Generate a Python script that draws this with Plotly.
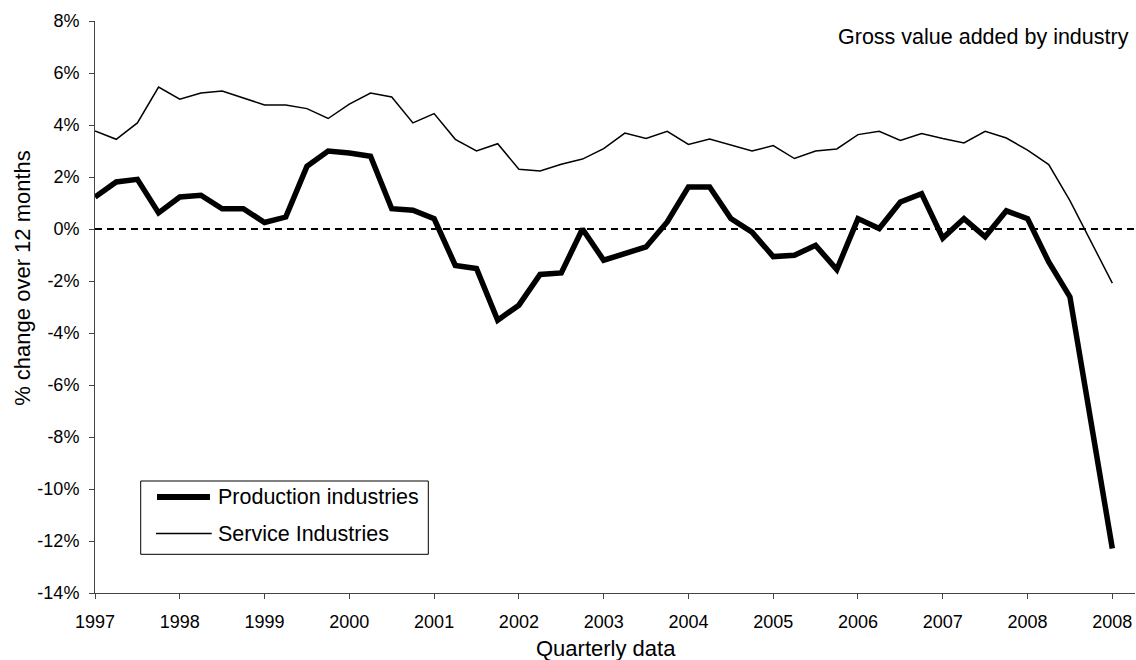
import plotly.graph_objects as go

# ---- data (percent change over 12 months) ----
quarters = [f"{y} Q{q}" for y in range(1997, 2010) for q in (1, 2, 3, 4)][:49]

production = [1.23, 1.81, 1.91, 0.62, 1.23, 1.30, 0.78, 0.78, 0.25, 0.46,
              2.41, 3.00, 2.92, 2.80, 0.78, 0.72, 0.40, -1.40, -1.52, -3.51,
              -2.93, -1.75, -1.69, 0.00, -1.20, -0.95, -0.69, 0.27, 1.62, 1.62,
              0.40, -0.12, -1.06, -1.01, -0.63, -1.56, 0.40, 0.02, 1.04, 1.36,
              -0.35, 0.40, -0.30, 0.70, 0.40, -1.27, -2.61, -7.45, -12.29]

services = [3.77, 3.45, 4.08, 5.46, 4.99, 5.23, 5.31, 5.05, 4.77, 4.77,
            4.63, 4.25, 4.80, 5.23, 5.08, 4.08, 4.44, 3.45, 3.00, 3.28,
            2.30, 2.23, 2.49, 2.69, 3.09, 3.69, 3.48, 3.76, 3.25, 3.46,
            3.22, 3.00, 3.21, 2.71, 3.00, 3.08, 3.63, 3.76, 3.41, 3.67,
            3.48, 3.31, 3.76, 3.50, 3.03, 2.48, 1.09, -0.49, -2.08]

year_labels = ["1997", "1998", "1999", "2000", "2001", "2002", "2003",
               "2004", "2005", "2006", "2007", "2008", "2008"]
y_ticks = [8, 6, 4, 2, 0, -2, -4, -6, -8, -10, -12, -14]

series_names = ["Production industries", "Service Industries"]

FONT = "Liberation Sans, Arial, sans-serif"

fig = go.Figure()
fig.add_trace(go.Scatter(x=quarters, y=services, mode="lines",
                         name=series_names[1],
                         line=dict(color="black", width=1.5),
                         showlegend=False))
fig.add_trace(go.Scatter(x=quarters, y=production, mode="lines",
                         name=series_names[0],
                         line=dict(color="black", width=5.5),
                         showlegend=False))

# zero reference line
fig.add_shape(type="line", xref="paper", yref="y", x0=0, x1=1, y0=0, y1=0,
              line=dict(color="black", width=2, dash="7px,5px"), layer="below")

# custom legend (paper coords)
W, H, L, B = 1040.0, 572.0, 95.0, 592.7
def px(x):
    return (x - L) / W
def py(y):
    return (B - y) / H

fig.add_shape(type="rect", xref="paper", yref="paper",
              x0=px(140.7), x1=px(428.3), y0=py(554), y1=py(480.7),
              line=dict(color="black", width=1), fillcolor="white")
fig.add_shape(type="line", xref="paper", yref="paper",
              x0=px(157), x1=px(210), y0=py(496.7), y1=py(496.7),
              line=dict(color="black", width=6))
fig.add_shape(type="line", xref="paper", yref="paper",
              x0=px(156), x1=px(211.7), y0=py(533.3), y1=py(533.3),
              line=dict(color="black", width=1.5))
fig.add_annotation(xref="paper", yref="paper", x=px(216), y=py(496.7),
                   text=series_names[0], showarrow=False,
                   xanchor="left", yanchor="middle",
                   font=dict(family=FONT, size=21.5, color="black"))
fig.add_annotation(xref="paper", yref="paper", x=px(216), y=py(533.3),
                   text=series_names[1], showarrow=False,
                   xanchor="left", yanchor="middle",
                   font=dict(family=FONT, size=21.5, color="black"))

# title (top right)
fig.add_annotation(xref="paper", yref="paper", x=px(1131), y=py(37),
                   text="Gross value added by industry", showarrow=False,
                   xanchor="right", yanchor="middle",
                   font=dict(family=FONT, size=21.5, color="black"))
# axis titles
fig.add_annotation(xref="paper", yref="paper", x=px(606), y=py(648),
                   text="Quarterly data", showarrow=False,
                   xanchor="center", yanchor="middle",
                   font=dict(family=FONT, size=22, color="black"))
fig.add_annotation(xref="paper", yref="paper", x=px(23), y=py(277.5),
                   text="% change over 12 months", showarrow=False,
                   textangle=-90, xanchor="center", yanchor="middle",
                   font=dict(family=FONT, size=22, color="black"))

fig.update_layout(
    width=1136, height=660,
    margin=dict(l=95, r=1, t=21, b=67, pad=0),
    paper_bgcolor="white", plot_bgcolor="white",
    font=dict(family=FONT, size=18, color="black"),
    showlegend=False,
)
fig.update_xaxes(
    type="category", range=[0, 49.07],
    tickmode="array", tickvals=quarters[::4], ticktext=year_labels,
    showgrid=False, zeroline=False,
    showline=True, linecolor="#444", linewidth=1,
    ticks="outside", ticklen=5, tickcolor="#444",
    tickfont=dict(family=FONT, size=18),
    ticklabelstandoff=7,
    automargin=False,
)
fig.update_yaxes(
    range=[-14, 8], tickmode="array", tickvals=y_ticks,
    ticktext=[f"{v}%" for v in y_ticks],
    showgrid=False, zeroline=False,
    showline=True, linecolor="#444", linewidth=1,
    ticks="outside", ticklen=5, tickcolor="#444",
    tickfont=dict(family=FONT, size=18),
    ticklabelstandoff=6,
    automargin=False,
)

fig.write_html(
    "out.html",
    config={"displayModeBar": False},
    post_script="document.body.style.margin='0';document.body.style.overflow='hidden';",
)
